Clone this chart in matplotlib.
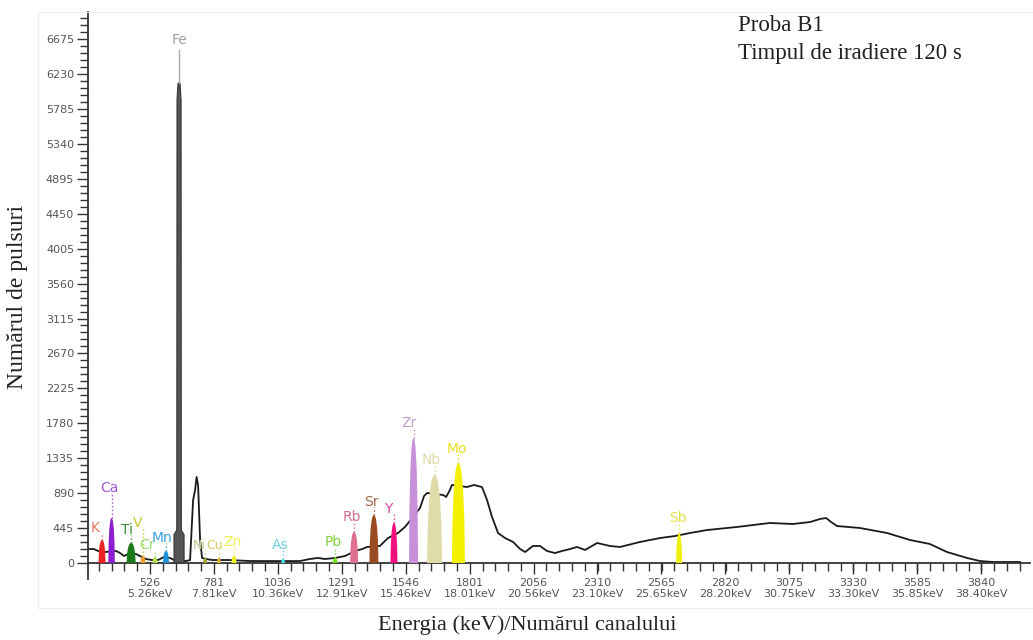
import matplotlib
matplotlib.use("Agg")
import matplotlib.pyplot as plt
from matplotlib.ticker import FixedLocator, NullFormatter, FixedFormatter

# ---------------- data ----------------
# black spectrum trace (channel, pulses)
spec_channel = [279, 303, 319, 351, 371, 391, 407, 423, 439, 470, 486, 510, 534, 558,
                582, 606, 622, 670, 686, 698, 706, 712, 718, 726, 734, 750, 774, 845,
                925, 1045, 1124, 1164, 1196, 1224, 1264, 1304, 1344, 1372, 1392, 1443,
                1475, 1515, 1543, 1603, 1619, 1631, 1695, 1707, 1722, 1730, 1790, 1818,
                1850, 1870, 1890, 1914, 1942, 1974, 2002, 2022, 2053, 2081, 2109, 2141,
                2169, 2201, 2229, 2261, 2309, 2360, 2400, 2480, 2560, 2620, 2679, 2747,
                2867, 2998, 3090, 3158, 3198, 3222, 3242, 3266, 3357, 3465, 3557, 3636,
                3704, 3784, 3836, 3888, 3995]
spec_counts = [178, 178, 153, 140, 150, 153, 127, 89, 115, 115, 89, 51, 38, 38,
               76, 64, 38, 25, 38, 800, 930, 1096, 990, 290, 64, 51, 38, 38,
               25, 25, 25, 51, 64, 51, 64, 89, 153, 178, 204, 217,
               318, 382, 459, 700, 854, 892, 866, 841, 930, 994, 968, 994,
               968, 803, 586, 382, 318, 268, 178, 140, 217, 217, 153, 127,
               153, 178, 204, 166, 255, 217, 204, 268, 318, 344, 382, 420,
               459, 510, 497, 522, 561, 573, 522, 471, 446, 382, 293, 242,
               140, 64, 25, 13, 13]

# identified element peaks
elements       = ["K", "Ca", "Ti", "V", "Cr", "Mn", "Ni", "Cu", "Zn", "As", "Pb",
                  "Rb", "Sr", "Y", "Zr", "Nb", "Mo", "Sb"]
peak_channel   = [335, 373, 451, 498, 546, 590, 746, 801, 861, 1057, 1264,
                  1340, 1419, 1499, 1577, 1661, 1756, 2636]
peak_height    = [293, 573, 255, 90, 76, 153, 64, 64, 89, 51, 64,
                  395, 611, 510, 1592, 1121, 1274, 382]
peak_halfwidth = [14, 13, 18, 10, 10, 12, 8, 8, 10, 8, 10,
                  16, 18, 14, 18, 30, 26, 12]
label_channel  = [307, 363, 435, 478, 514, 574, 722, 784, 857, 1045, 1256,
                  1332, 1407, 1475, 1559, 1647, 1750, 2632]
label_count    = [446, 955, 420, 510, 229, 318, 229, 229, 268, 229, 268,
                  586, 777, 688, 1783, 1312, 1452, 573]

# Fe peak (dominant), its profile
fe_channel = 642
fe_profile_dx = [-20, -20, -9, -8, -4, 4, 8, 9, 20, 20]
fe_profile_counts = [0, 360, 420, 5900, 6115, 6115, 5900, 420, 360, 0]
fe_marker_top = 6535
fe_label_count = 6662

# axis ticks
x_ticks = [526, 781, 1036, 1291, 1546, 1801, 2056, 2310, 2565, 2820, 3075, 3330, 3585, 3840]
x_kev = ["5.26", "7.81", "10.36", "12.91", "15.46", "18.01", "20.56", "23.10",
         "25.65", "28.20", "30.75", "33.30", "35.85", "38.40"]
y_ticks = [0, 445, 890, 1335, 1780, 2225, 2670, 3115, 3560, 4005, 4450, 4895,
           5340, 5785, 6230, 6675]

# ---------------- styles ----------------
fill_colors = {"K": "#ee2222", "Ca": "#8e1ed0", "Ti": "#1a7a1a", "V": "#f09a30",
               "Cr": "#b0e050", "Mn": "#2090d8", "Ni": "#a0a030", "Cu": "#e0b030",
               "Zn": "#f0f020", "As": "#40e0f0", "Pb": "#70e020", "Rb": "#e07090",
               "Sr": "#9a4a20", "Y": "#f0107e", "Zr": "#c890d8", "Nb": "#e0dcaa",
               "Mo": "#f5f000", "Sb": "#f0f010"}
label_colors = {"K": "#e8735a", "Ca": "#9b59d0", "Ti": "#3a8a3a", "V": "#c8c832",
                "Cr": "#9ad86a", "Mn": "#3aa0e0", "Ni": "#c0c080", "Cu": "#d8c868",
                "Zn": "#f0f050", "As": "#70d0e0", "Pb": "#80d040", "Rb": "#d07090",
                "Sr": "#a06a4a", "Y": "#e040a0", "Zr": "#c0a0c8", "Nb": "#e0dca8",
                "Mo": "#e8e020", "Sb": "#e8e050"}
shape_dx = [-1, -0.9, -0.7, -0.45, -0.2, 0, 0.2, 0.45, 0.7, 0.9, 1]
shape_dy = [0, 0.45, 0.75, 0.92, 0.99, 1, 0.99, 0.92, 0.75, 0.45, 0]

W, H = 1033, 640
fig = plt.figure(figsize=(W / 100, H / 100), dpi=100)
ax = fig.add_axes([88 / W, 1 - 578.7 / H, 942 / W, 566.7 / H])

# faint panel frame of the original screenshot
fig.patches.append(plt.Rectangle((38 / W, 1 - 608 / H), (W - 38) / W, (608 - 12) / H,
                                 transform=fig.transFigure, fill=False,
                                 edgecolor="#eeeeee", lw=0.8))

ax.plot(spec_channel, spec_counts, color="#1a1a1a", lw=1.3, zorder=2)

# Fe peak
fe_x = [fe_channel + d for d in fe_profile_dx]
ax.fill(fe_x, fe_profile_counts, color="#555555", lw=0.8, ec="#333333", zorder=3)
ax.plot([fe_channel, fe_channel], [fe_profile_counts[4], fe_marker_top],
        color="#aaaaaa", lw=1.0, zorder=3)
ax.text(fe_channel, fe_label_count, "Fe", color="#a0a0a0", fontsize=10,
        ha="center", va="center", zorder=4)

for el, c, h, hw, lc, ly in zip(elements, peak_channel, peak_height, peak_halfwidth,
                                label_channel, label_count):
    xs = [c + hw * d for d in shape_dx]
    ys = [h * d for d in shape_dy]
    ax.fill(xs, ys, color=fill_colors[el], lw=0, zorder=3)
    ax.plot([c, c], [h, ly - 60], color=label_colors[el], lw=1.0, ls=":", zorder=3)
    fs = 9 if el in ("Ni", "Cu") else 10
    ax.text(lc, ly, el, color=label_colors[el], fontsize=fs, ha="center",
            va="center", zorder=4)

ax.set_xlim(279, 4035)
ax.set_ylim(-200, 7020)

for s in ["top", "right"]:
    ax.spines[s].set_visible(False)
ax.spines["bottom"].set_position(("data", 0))
ax.spines["bottom"].set_color("#333333")
ax.spines["left"].set_color("#333333")
ax.spines["bottom"].set_linewidth(1.3)
ax.spines["left"].set_linewidth(1.3)

ax.xaxis.set_major_locator(FixedLocator(x_ticks))
ax.xaxis.set_major_formatter(FixedFormatter([f"{t}\n{k}keV" for t, k in zip(x_ticks, x_kev)]))
ax.xaxis.set_minor_locator(FixedLocator(list(range(322, 4030, 51))))
ax.xaxis.set_minor_formatter(NullFormatter())
ax.yaxis.set_major_locator(FixedLocator(y_ticks))
ax.yaxis.set_minor_locator(FixedLocator(list(range(0, 7000, 89))))
ax.yaxis.set_minor_formatter(NullFormatter())

ax.tick_params(axis="both", which="major", direction="out", length=8, width=1.0,
               color="#333333", labelsize=8, labelcolor="#555555")
ax.tick_params(axis="both", which="minor", direction="out", length=6, width=1.0,
               color="#333333")
ax.tick_params(axis="x", which="major", pad=3)
ax.tick_params(axis="y", which="major", pad=2)
for lab in ax.get_xticklabels():
    lab.set_linespacing(1.1)

serif = "Liberation Serif"
fig.text(738 / W, 1 - 31 / H, "Proba B1", family=serif, fontsize=16.5,
         color="#222222", ha="left", va="baseline")
fig.text(738 / W, 1 - 59 / H, "Timpul de iradiere 120 s", family=serif, fontsize=16.5,
         color="#222222", ha="left", va="baseline")
fig.text(18 / W, 1 - 297 / H, "Numărul de pulsuri", family=serif, fontsize=17,
         color="#222222", ha="center", va="center", rotation=90)
fig.text(527 / W, 1 - 625 / H, "Energia (keV)/Numărul canalului", family=serif,
         fontsize=16, color="#222222", ha="center", va="center")

fig.savefig("out.png", dpi=100)
